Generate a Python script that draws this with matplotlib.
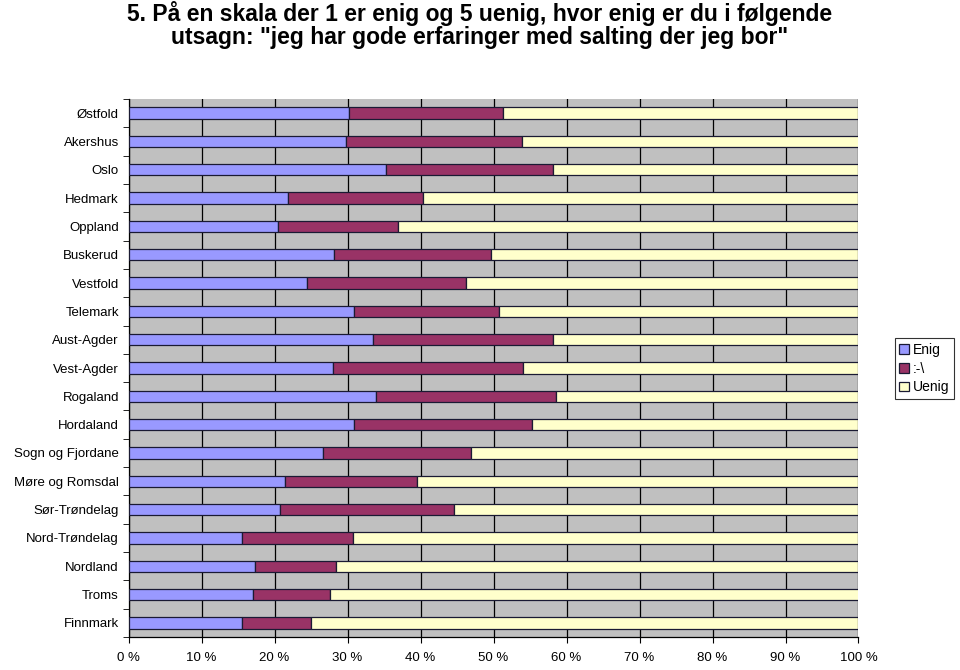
import matplotlib
matplotlib.use("Agg")
import matplotlib.pyplot as plt
import numpy as np

plt.rcParams['font.family'] = ['Liberation Sans', 'DejaVu Sans']

fylker = ["Østfold", "Akershus", "Oslo", "Hedmark", "Oppland", "Buskerud",
          "Vestfold", "Telemark", "Aust-Agder", "Vest-Agder", "Rogaland",
          "Hordaland", "Sogn og Fjordane", "Møre og Romsdal", "Sør-Trøndelag",
          "Nord-Trøndelag", "Nordland", "Troms", "Finnmark"]

# andel i prosent
enig = [30.2, 29.8, 35.3, 21.9, 20.5, 28.2, 24.4, 30.9, 33.5, 28.0,
        33.9, 30.9, 26.7, 21.4, 20.8, 15.5, 17.3, 17.1, 15.5]
noytral = [21.1, 24.1, 22.9, 18.5, 16.4, 21.5, 21.8, 19.8, 24.7, 26.1,
           24.6, 24.4, 20.2, 18.1, 23.8, 15.3, 11.1, 10.5, 9.5]
uenig = [100 - a - b for a, b in zip(enig, noytral)]

serier = ["Enig", ":-\\", "Uenig"]
farger = ["#9999FF", "#993366", "#FFFFCC"]

fig = plt.figure(figsize=(9.6, 6.7), dpi=100)
ax = fig.add_axes([128.6 / 960, 1 - 637 / 670, (858.5 - 128.6) / 960, (637 - 99) / 670])
ax.set_facecolor("#C0C0C0")

y = np.arange(len(fylker))
venstre = np.zeros(len(fylker))
for navn, verdier, farge in zip(serier, [enig, noytral, uenig], farger):
    ax.barh(y, verdier, left=venstre, height=0.4, color=farge,
            edgecolor="#1a1a33", linewidth=0.9, label=navn, zorder=3)
    venstre += np.array(verdier)

ax.set_xlim(0, 100)
ax.set_ylim(len(fylker) - 0.5, -0.5)
ax.set_xticks(np.arange(0, 101, 10))
ax.set_xticklabels([f"{v} %" for v in range(0, 101, 10)], fontsize=9.5)
ax.xaxis.grid(True, color="black", linewidth=0.9, zorder=1)
ax.set_axisbelow(True)

ax.set_yticks(y)
ax.set_yticklabels(fylker, fontsize=9.5)
ax.set_yticks(np.arange(-0.5, len(fylker), 1), minor=True)
ax.tick_params(axis="y", which="major", length=0, pad=7)
ax.tick_params(axis="y", which="minor", length=4, direction="out")
ax.tick_params(axis="x", length=4, direction="out", pad=7)

for s in ["top", "right"]:
    ax.spines[s].set_visible(False)
for s in ["left", "bottom"]:
    ax.spines[s].set_color("black")
    ax.spines[s].set_linewidth(0.9)

fig.text(0.5, 1 - 1 / 670,
         "5. På en skala der 1 er enig og 5 uenig, hvor enig er du i følgende\n"
         "utsagn: \"jeg har gode erfaringer med salting der jeg bor\"",
         ha="center", va="top", fontsize=16.5, fontweight="bold", linespacing=1.0)

leg = fig.legend(loc="center left", bbox_to_anchor=(895 / 960, 1 - 368.5 / 670),
                 fontsize=10, frameon=True, fancybox=False, edgecolor="black",
                 handlelength=0.7, handleheight=0.7, handletextpad=0.3,
                 borderpad=0.3, labelspacing=0.35, borderaxespad=0)
leg.get_frame().set_linewidth(0.8)

fig.savefig("out.png", dpi=100)
